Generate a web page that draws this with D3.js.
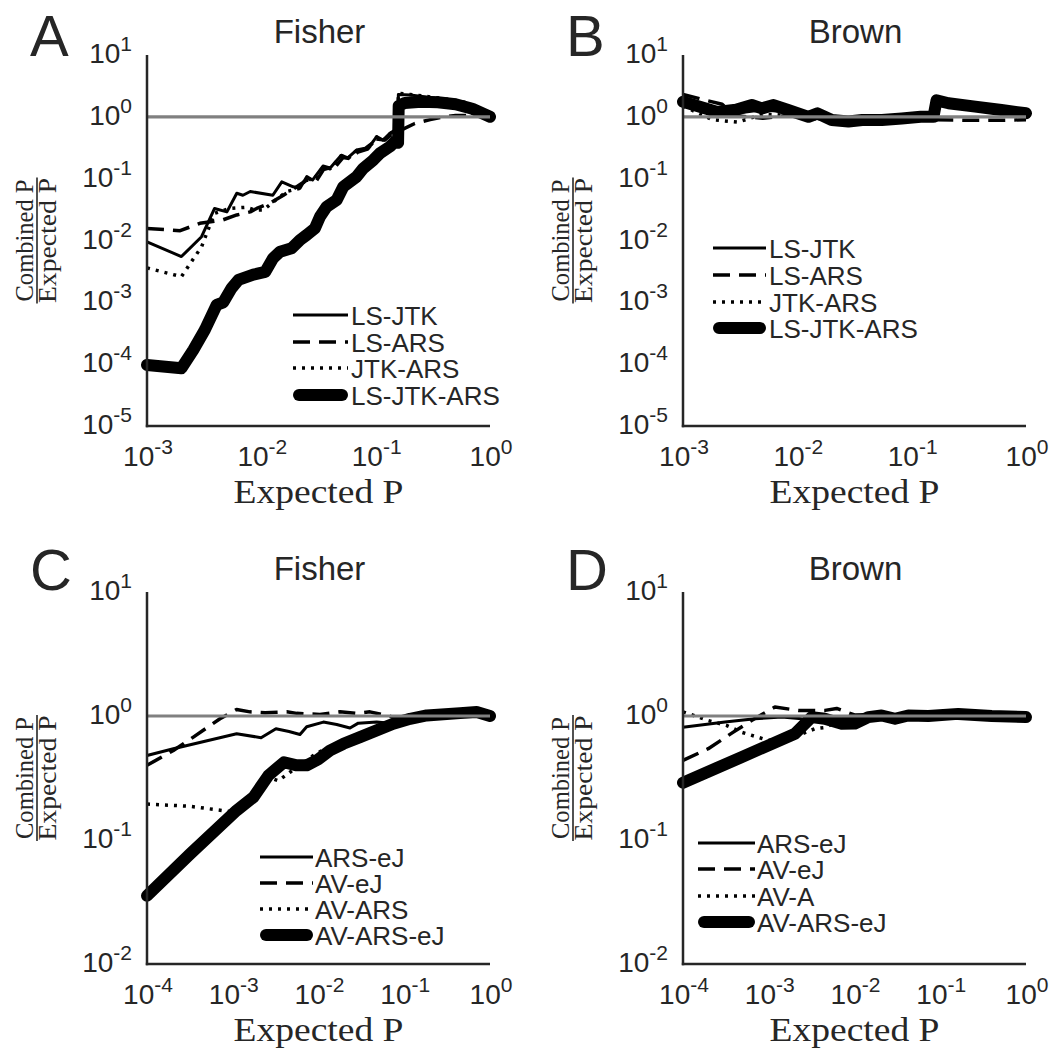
<!DOCTYPE html>
<html><head><meta charset="utf-8">
<script src="https://cdn.jsdelivr.net/npm/d3@7"></script>
<style>
html,body{margin:0;padding:0;background:#fff;}
svg{display:block;}
</style>
</head><body>
<svg id="chart" width="1053" height="1057"></svg>
<script>
// ---------------- DATA ----------------
// x-axis tick exponents (labels 10^k)
const xTickExpTop = [-3, -2, -1, 0];
const xTickExpBottom = [-4, -3, -2, -1, 0];
// y-axis tick exponents
const yTickExpTop = [-5, -4, -3, -2, -1, 0, 1];
const yTickExpBottom = [-2, -1, 0, 1];

const titles = ["Fisher", "Brown", "Fisher", "Brown"];
const panelLetters = ["A", "B", "C", "D"];
const legendTop = ["LS-JTK", "LS-ARS", "JTK-ARS", "LS-JTK-ARS"];
const legendC = ["ARS-eJ", "AV-eJ", "AV-ARS", "AV-ARS-eJ"];
const legendD = ["ARS-eJ", "AV-eJ", "AV-A", "AV-ARS-eJ"];
const referenceRatio = 1;

// Panel A (Fisher): [expected P, combined P / expected P]
const A_LS_JTK = [[0.001,0.0095],[0.002,0.0055],[0.003,0.0115],[0.0039,0.033],[0.005,0.029],[0.0061,0.058],[0.0069,0.054],[0.008,0.062],[0.0126,0.054],[0.0151,0.089],[0.019,0.074],[0.0218,0.070],[0.025,0.108],[0.028,0.095],[0.0346,0.16],[0.040,0.149],[0.050,0.24],[0.057,0.216],[0.068,0.29],[0.081,0.31],[0.092,0.37],[0.102,0.48],[0.116,0.42],[0.133,0.54],[0.148,0.61],[0.155,0.53],[0.158,2.3],[0.2,2.25],[0.3,2.05],[0.45,1.85],[0.6,1.7],[0.8,1.4],[1.0,1.02]];
const A_LS_ARS = [[0.001,0.0157],[0.00195,0.0144],[0.0029,0.019],[0.0046,0.0215],[0.0061,0.0259],[0.008,0.029],[0.0091,0.033],[0.0119,0.040],[0.0156,0.054],[0.0204,0.074],[0.025,0.095],[0.03,0.09],[0.035,0.14],[0.045,0.16],[0.052,0.22],[0.06,0.21],[0.07,0.27],[0.085,0.30],[0.1,0.44],[0.12,0.42],[0.135,0.5],[0.15,0.55],[0.17,0.62],[0.22,0.78],[0.3,0.9],[0.39,1.0],[0.5,1.05],[0.7,1.05],[1.0,1.0]];
const A_JTK_ARS = [[0.001,0.0036],[0.002,0.0026],[0.0024,0.0043],[0.003,0.0079],[0.0036,0.019],[0.0039,0.0275],[0.0053,0.033],[0.0074,0.0345],[0.0088,0.031],[0.0104,0.031],[0.0127,0.042],[0.0167,0.062],[0.0218,0.070],[0.025,0.105],[0.028,0.092],[0.035,0.155],[0.04,0.145],[0.05,0.235],[0.057,0.21],[0.068,0.285],[0.081,0.30],[0.092,0.36],[0.102,0.47],[0.116,0.41],[0.133,0.53],[0.148,0.6],[0.155,0.52],[0.158,2.4],[0.2,2.3],[0.3,2.1],[0.45,1.9],[0.6,1.72],[0.8,1.4],[1.0,1.02]];
const A_LS_JTK_ARS = [[0.001,9.7e-5],[0.002,8.6e-5],[0.00254,1.7e-4],[0.00321,3.6e-4],[0.00407,9.1e-4],[0.00465,1.0e-3],[0.0055,1.7e-3],[0.0063,2.3e-3],[0.0085,2.8e-3],[0.0108,3.1e-3],[0.0127,5.2e-3],[0.0146,6.6e-3],[0.0184,7.5e-3],[0.0218,0.0102],[0.025,0.0123],[0.0294,0.0157],[0.0326,0.0243],[0.0373,0.0352],[0.0456,0.0452],[0.0521,0.074],[0.0683,0.108],[0.078,0.147],[0.0953,0.2],[0.109,0.257],[0.133,0.33],[0.148,0.40],[0.157,0.38],[0.159,1.5],[0.18,1.68],[0.25,1.75],[0.35,1.72],[0.5,1.6],[0.7,1.35],[1.0,1.0]];

// Panel B (Brown)
const B_LS_JTK = [[0.001,2.0],[0.002,1.25],[0.003,1.15],[0.005,1.3],[0.008,1.2],[0.013,1.0],[0.02,0.9],[0.04,0.9],[0.08,0.93],[0.155,0.98],[0.162,1.9],[0.25,1.6],[0.5,1.3],[1.0,1.1]];
const B_LS_ARS = [[0.001,2.3],[0.0015,1.9],[0.0022,1.6],[0.0028,1.05],[0.005,0.95],[0.01,1.1],[0.02,0.85],[0.05,0.88],[0.15,0.9],[0.3,0.88],[0.6,0.88],[1.0,0.9]];
const B_JTK_ARS = [[0.001,1.5],[0.0018,0.9],[0.003,0.82],[0.005,1.1],[0.01,1.05],[0.02,0.85],[0.05,0.85],[0.15,0.9],[0.162,1.8],[0.3,1.5],[1.0,1.05]];
const B_LS_JTK_ARS = [[0.001,1.75],[0.002,1.2],[0.0029,1.3],[0.004,1.55],[0.0049,1.37],[0.0062,1.55],[0.0083,1.29],[0.0125,1.0],[0.015,1.14],[0.02,0.89],[0.028,0.84],[0.037,0.89],[0.055,0.89],[0.082,0.94],[0.12,1.0],[0.155,1.0],[0.165,1.85],[0.21,1.66],[0.36,1.46],[0.61,1.29],[1.0,1.14]];

// Panel C (Fisher)
const C_ARS_eJ = [[1e-4,0.48],[2.03e-4,0.545],[1.11e-3,0.72],[2.14e-3,0.668],[3.19e-3,0.79],[4.53e-3,0.75],[6.08e-3,0.71],[7.28e-3,0.82],[0.0114,0.893],[0.0163,0.855],[0.0233,0.80],[0.0291,0.876],[0.0477,0.893],[0.068,0.876],[0.117,0.934],[0.183,0.968],[0.283,1.01],[0.45,1.06],[0.7,1.07],[1.0,1.0]];
const C_AV_eJ = [[1e-4,0.40],[2.03e-4,0.527],[3.47e-4,0.676],[7.1e-4,0.95],[1.11e-3,1.13],[1.59e-3,1.08],[2.38e-3,1.06],[4.26e-3,1.08],[5.57e-3,1.05],[0.0104,1.03],[0.0178,1.08],[0.0279,1.05],[0.0398,1.08],[0.0745,0.98],[0.15,1.0],[0.3,1.02],[0.5,1.06],[0.7,1.07],[1.0,1.0]];
const C_AV_ARS = [[1e-4,0.195],[3.17e-4,0.187],[1.11e-3,0.167],[1.74e-3,0.22],[2.6e-3,0.32],[3.4e-3,0.30],[4.65e-3,0.352],[8.7e-3,0.48],[0.0119,0.545],[0.0195,0.6],[0.0305,0.68],[0.0477,0.77],[0.0745,0.87],[0.117,0.95],[0.183,1.01],[0.45,1.055],[0.7,1.075],[1.0,1.0]];
const C_AV_ARS_eJ = [[1e-4,0.0355],[3.17e-4,0.077],[1.11e-3,0.173],[1.74e-3,0.221],[2.6e-3,0.331],[3.96e-3,0.424],[5.57e-3,0.40],[7.28e-3,0.40],[9.87e-3,0.446],[0.0136,0.527],[0.0195,0.597],[0.0305,0.676],[0.0477,0.765],[0.0745,0.866],[0.117,0.95],[0.183,1.01],[0.447,1.055],[0.70,1.075],[1.0,1.0]];

// Panel D (Brown)
const D_ARS_eJ = [[1e-4,0.813],[3.09e-4,0.893],[6.9e-4,0.95],[1.42e-3,0.98],[2.42e-3,0.95],[4e-3,0.93],[8e-3,0.96],[0.02,0.98],[0.05,0.99],[0.2,1.0],[1.0,0.99]];
const D_AV_eJ = [[1e-4,0.438],[1.97e-4,0.545],[3.86e-4,0.741],[6.3e-4,0.92],[1.18e-3,1.18],[2.21e-3,1.11],[4.53e-3,1.11],[6.2e-3,1.15],[0.01,1.02],[0.03,1.03],[0.1,1.02],[1.0,1.0]];
const D_AV_A = [[1e-4,1.08],[1.97e-4,0.92],[3.2e-4,0.84],[4.8e-4,0.741],[9.9e-4,0.635],[2e-3,0.68],[3.46e-3,0.79],[4.74e-3,0.81],[6.5e-3,0.95],[0.01,0.98],[0.05,1.0],[1.0,0.99]];
const D_AV_ARS_eJ = [[1e-4,0.29],[4.8e-4,0.465],[2.02e-3,0.72],[2.77e-3,0.893],[3.17e-3,0.98],[4.5e-3,0.95],[7.1e-3,0.866],[0.0101,0.87],[0.0145,0.98],[0.0207,1.01],[0.0297,0.95],[0.0424,1.01],[0.0726,1.0],[0.162,1.04],[0.398,1.0],[1.0,0.98]];

// ---------------- LAYOUT / STYLE ----------------
const TXT = "#262626";
const SANS = "Liberation Sans, Arial, sans-serif";
const SERIF = "Liberation Serif, Times New Roman, serif";
const lineStyles = [
  {w: 3, dash: null, cap: "butt"},
  {w: 3.5, dash: "17,9", cap: "butt"},
  {w: 3.5, dash: "3,6", cap: "butt"},
  {w: 12, dash: null, cap: "round"}
];

const panels = [
  {left:147, right:490, top:55, bottom:426, xExp:xTickExpTop, yExp:yTickExpTop,
   series:[A_LS_JTK, A_LS_ARS, A_JTK_ARS, A_LS_JTK_ARS], legend:legendTop,
   leg:{x0:293, x1:348, tx:351, rows:[315,342,368,395]}},
  {left:683, right:1026, top:55, bottom:426, xExp:xTickExpTop, yExp:yTickExpTop,
   series:[B_LS_JTK, B_LS_ARS, B_JTK_ARS, B_LS_JTK_ARS], legend:legendTop,
   leg:{x0:713, x1:766, tx:769, rows:[248,275,302,328]}},
  {left:147, right:490, top:592, bottom:964, xExp:xTickExpBottom, yExp:yTickExpBottom,
   series:[C_ARS_eJ, C_AV_eJ, C_AV_ARS, C_AV_ARS_eJ], legend:legendC,
   leg:{x0:260, x1:313, tx:315, rows:[857,883,909,935]}},
  {left:683, right:1026, top:592, bottom:964, xExp:xTickExpBottom, yExp:yTickExpBottom,
   series:[D_ARS_eJ, D_AV_eJ, D_AV_A, D_AV_ARS_eJ], legend:legendD,
   leg:{x0:698, x1:755, tx:757, rows:[843,869,896,922]}}
];

const svg = d3.select("#chart");

panels.forEach((p, i) => {
  const xs = p.xExp, ys = p.yExp;
  const x = d3.scaleLog().domain([Math.pow(10, xs[0]), Math.pow(10, xs[xs.length-1])]).range([p.left, p.right]);
  const y = d3.scaleLog().domain([Math.pow(10, ys[0]), Math.pow(10, ys[ys.length-1])]).range([p.bottom, p.top]);
  const g = svg.append("g");

  // panel letter
  g.append("text").attr("x", p.left - 117).attr("y", p.top + (i < 2 ? 1 : -2))
    .attr("font-family", SANS).attr("font-size", 58)
    .attr("fill", TXT).text(panelLetters[i]);

  // title
  g.append("text").attr("x", (p.left + p.right) / 2 + 1).attr("y", p.top - 12)
    .attr("text-anchor", "middle").attr("font-family", SANS)
    .attr("font-size", 33).attr("fill", TXT).text(titles[i]);

  // data lines
  const line = d3.line().x(d => x(d[0])).y(d => y(d[1]));
  p.series.forEach((s, k) => {
    const st = lineStyles[k];
    g.append("path").datum(s).attr("d", line).attr("fill", "none")
      .attr("stroke", "#000").attr("stroke-width", st.w)
      .attr("stroke-dasharray", st.dash).attr("stroke-linecap", st.cap)
      .attr("stroke-linejoin", "round");
  });

  // reference line at ratio = 1
  g.append("line").attr("x1", x.range()[0]).attr("x2", x.range()[1])
    .attr("y1", y(referenceRatio)).attr("y2", y(referenceRatio))
    .attr("stroke", "#808080").attr("stroke-width", 3.2);

  // axes (left and bottom only, no tick marks)
  g.append("line").attr("x1", p.left).attr("x2", p.left).attr("y1", p.top).attr("y2", p.bottom + 1.2)
    .attr("stroke", TXT).attr("stroke-width", 2.5);
  g.append("line").attr("x1", p.left - 1.2).attr("x2", p.right).attr("y1", p.bottom).attr("y2", p.bottom)
    .attr("stroke", TXT).attr("stroke-width", 2.5);

  // y tick labels
  ys.forEach(e => {
    const t = g.append("text").attr("x", p.left - 15).attr("y", y(Math.pow(10, e)) + 8)
      .attr("text-anchor", "end").attr("font-family", SANS)
      .attr("font-size", 28).attr("fill", TXT);
    t.append("tspan").text("10");
    t.append("tspan").attr("dy", -12).attr("font-size", 21).text(String(e));
  });
  // x tick labels
  xs.forEach(e => {
    const t = g.append("text").attr("x", x(Math.pow(10, e)) + 1).attr("y", p.bottom + 40)
      .attr("text-anchor", "middle").attr("font-family", SANS)
      .attr("font-size", 28).attr("fill", TXT);
    t.append("tspan").text("10");
    t.append("tspan").attr("dy", -12).attr("font-size", 21).text(String(e));
  });

  // x label
  g.append("text").attr("x", (p.left + p.right) / 2).attr("y", p.bottom + 77)
    .attr("text-anchor", "middle").attr("font-family", SERIF)
    .attr("font-size", 34).attr("fill", TXT)
    .attr("textLength", 170).attr("lengthAdjust", "spacingAndGlyphs").text("Expected P");

  // y label (fraction)
  const yl = g.append("g").attr("transform", `translate(${p.left - 110},${(p.top + p.bottom) / 2}) rotate(-90)`);
  yl.append("text").attr("x", 0).attr("y", -4).attr("text-anchor", "middle")
    .attr("font-family", SERIF).attr("font-size", 25).attr("fill", TXT)
    .attr("textLength", 122).attr("lengthAdjust", "spacingAndGlyphs").text("Combined P");
  yl.append("line").attr("x1", -63).attr("x2", 63).attr("y1", 0).attr("y2", 0)
    .attr("stroke", TXT).attr("stroke-width", 1.6);
  yl.append("text").attr("x", 0).attr("y", 19).attr("text-anchor", "middle")
    .attr("font-family", SERIF).attr("font-size", 25).attr("fill", TXT)
    .attr("textLength", 125).attr("lengthAdjust", "spacingAndGlyphs").text("Expected P");

  // legend
  p.legend.forEach((name, k) => {
    const st = lineStyles[k];
    const ry = p.leg.rows[k];
    const x0 = p.leg.x0 + (st.cap === "round" ? st.w / 2 : 0);
    const x1 = p.leg.x1 - (st.cap === "round" ? st.w / 2 : 0);
    g.append("line").attr("x1", x0).attr("x2", x1).attr("y1", ry).attr("y2", ry)
      .attr("stroke", "#000").attr("stroke-width", st.w)
      .attr("stroke-dasharray", st.dash).attr("stroke-linecap", st.cap);
    g.append("text").attr("x", p.leg.tx).attr("y", ry + 9.5)
      .attr("font-family", SANS).attr("font-size", 26)
      .attr("fill", TXT).text(name);
  });
});
</script>
</body></html>
